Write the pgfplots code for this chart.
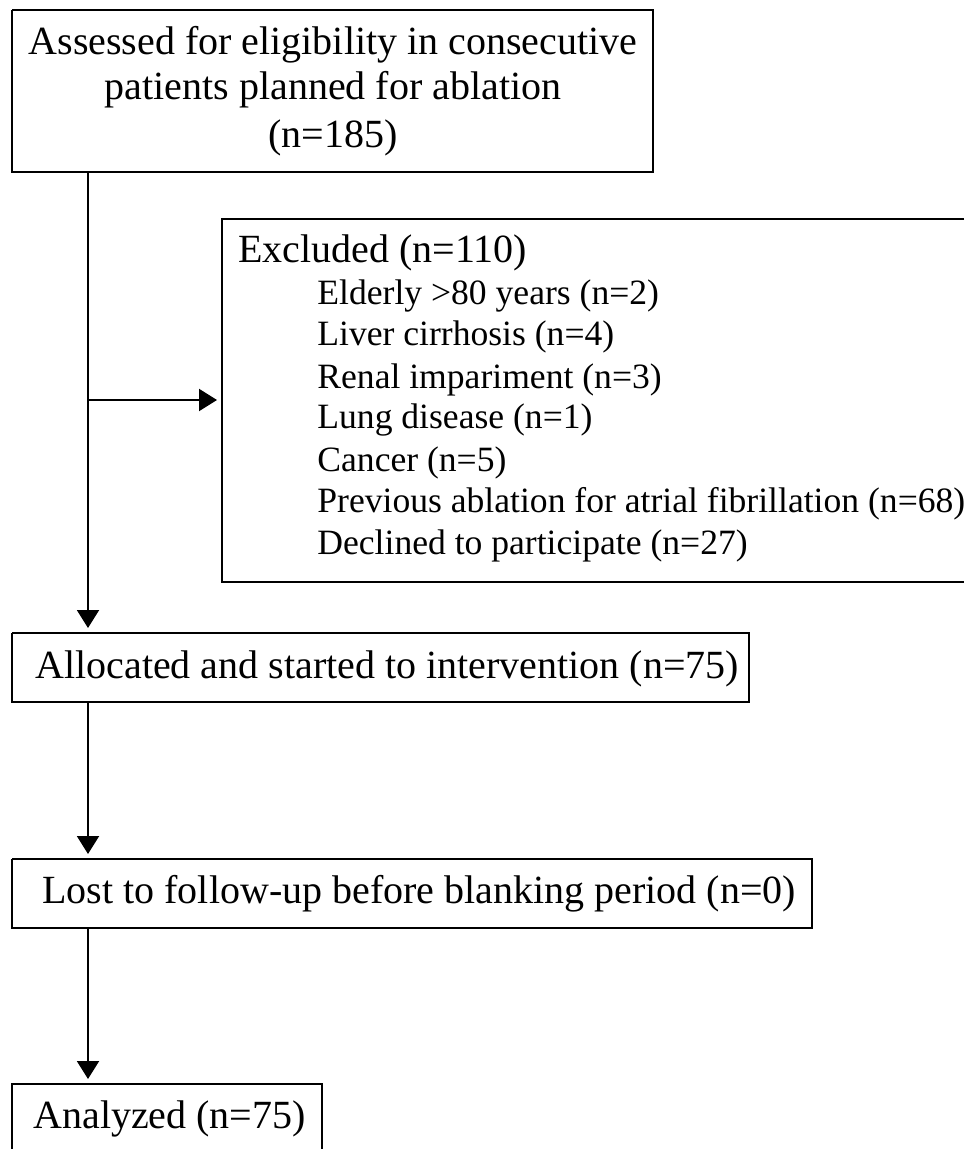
\documentclass[border=0pt]{standalone}
\usepackage{fontspec}
\setmainfont{Liberation Serif}
\usepackage{pgfplots}
\pgfplotsset{compat=1.18}
\usetikzlibrary{arrows.meta}

\tikzset{
  line/.style={black, line width=1pt, mark=none},
  arr/.style={line, -{Triangle[length=9pt,width=11pt]}},
  big/.style={font=\fontsize{20}{22}\selectfont, inner sep=0pt},
  small/.style={font=\fontsize{17.8}{20}\selectfont, inner sep=0pt, anchor=base west},
}

\begin{document}
\begin{tikzpicture}
\begin{axis}[
    scale only axis, width=482pt, height=574.5pt,
    xmin=0, xmax=964, ymin=0, ymax=1149,
    y dir=reverse, hide axis, clip=false,
  ]
  % boxes
  \addplot[line] coordinates {(12,10)(653,10)(653,172)(12,172)(12,10)};
  \addplot[line] coordinates {(964,219)(222,219)(222,582)(964,582)};
  \addplot[line] coordinates {(12,633)(749,633)(749,702)(12,702)(12,633)};
  \addplot[line] coordinates {(12,859)(812,859)(812,928)(12,928)(12,859)};
  \addplot[line] coordinates {(12,1149)(12,1084)(322,1084)(322,1149)};

  % arrows
  \addplot[arr] coordinates {(88,172)(88,628)};
  \addplot[arr] coordinates {(88,400)(217,400)};
  \addplot[arr] coordinates {(88,702)(88,854)};
  \addplot[arr] coordinates {(88,928)(88,1079)};

  \node[big, anchor=base] at (axis cs:333,55) {Assessed for eligibility in consecutive};
  \node[big, anchor=base] at (axis cs:333,100) {patients planned for ablation};
  \node[big, anchor=base] at (axis cs:333,148) {(n=185)};

  \node[big, anchor=base west] at (axis cs:238,263) {Excluded (n=110)};
  \node[small] at (axis cs:317,305) {Elderly >80 years (n=2)};
  \node[small] at (axis cs:317,346) {Liver cirrhosis (n=4)};
  \node[small] at (axis cs:317,388) {Renal impariment (n=3)};
  \node[small] at (axis cs:317,429) {Lung disease (n=1)};
  \node[small] at (axis cs:317,471) {Cancer (n=5)};
  \node[small] at (axis cs:317,512) {Previous ablation for atrial fibrillation (n=68)};
  \node[small] at (axis cs:317,554) {Declined to participate (n=27)};

  \node[big, anchor=base west] at (axis cs:35,678) {Allocated and started to intervention (n=75)};
  \node[big, anchor=base west] at (axis cs:42,903) {Lost to follow-up before blanking period (n=0)};
  \node[big, anchor=base west] at (axis cs:33,1128) {Analyzed (n=75)};
\end{axis}
\pgfresetboundingbox
\path[use as bounding box] (current axis.south west) rectangle (current axis.north east);
\end{tikzpicture}
\end{document}
